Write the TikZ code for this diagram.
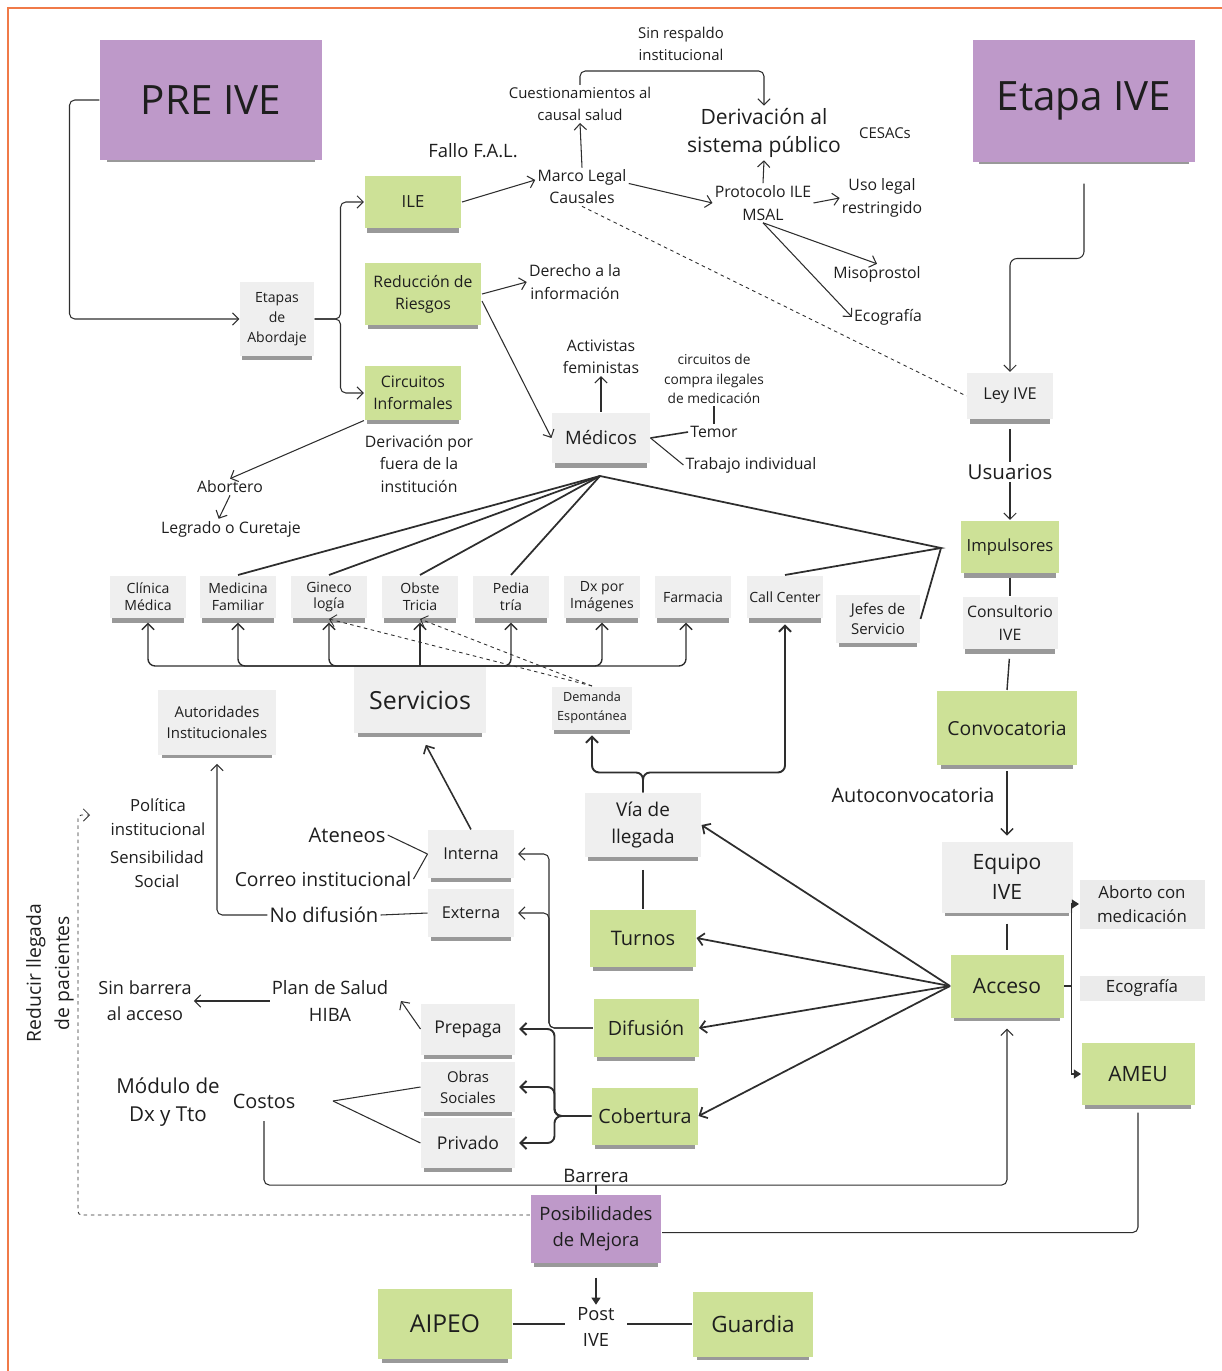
\documentclass[tikz,border=0pt]{standalone}
\usepackage{fontspec}
\setmainfont{Open Sans}
\usetikzlibrary{arrows.meta,shadows}
\definecolor{notepurple}{HTML}{BE99C9}
\definecolor{notegreen}{HTML}{CDE197}
\definecolor{notegray}{HTML}{EFEFEF}
\definecolor{flatgray}{HTML}{EBEBEB}
\definecolor{framecol}{HTML}{F07A48}
\definecolor{linecol}{HTML}{2E2E2E}
\definecolor{inkcol}{HTML}{1E1E1E}
\newcommand\fsz[2]{\fontsize{#1}{#2}\selectfont}
\tikzset{
	note/.style={rectangle, inner sep=1pt, align=center, text=inkcol,
		general shadow={fill=black, opacity=.4, shadow scale=.94, shadow yshift=-3.5pt}},
	purplenote/.style={note, fill=notepurple},
	greennote/.style={note, fill=notegreen},
	graynote/.style={note, fill=notegray},
	flatnote/.style={rectangle, inner sep=1pt, align=center, text=inkcol, fill=flatgray},
	lbl/.style={align=center, inner sep=1pt, text=inkcol},
	dotline/.style={dash pattern=on 2pt off 2pt, line width=0.5pt},
	tri/.style={-{Triangle[length=4pt,width=5pt]}}
}
\begin{document}
\begin{tikzpicture}[x=0.02cm, y=-0.02cm, color=linecol, line width=0.6pt,
	>={Straight Barb[length=3.5pt,width=7pt]}]
	\useasboundingbox (0,0) rectangle (1222,1371);
	\draw[framecol, line width=1.2pt] (1222,8) -- (8,8) -- (8,1371);

	% PRE IVE
	\node[purplenote, minimum width=4.44cm, minimum height=2.4cm, font=\fsz{23}{28}] (preive) at (211,100) {PRE IVE};
	\node[graynote, minimum width=1.48cm, minimum height=1.48cm, font=\fsz{8}{11.3}] (etapas) at (277,319) {Etapas\\de\\Abordaje};
	\node[greennote, minimum width=1.94cm, minimum height=1.06cm, font=\fsz{9.5}{12}] (ile) at (413,202) {ILE};
	\node[greennote, minimum width=2.34cm, minimum height=1.26cm, font=\fsz{9}{12.5}] (reduccion) at (423,294) {Reducción de\\Riesgos};
	\node[greennote, minimum width=1.94cm, minimum height=1.08cm, font=\fsz{9}{12.5}] (circinf) at (413,393) {Circuitos\\Informales};
	\node[lbl, font=\fsz{10.5}{13}] (fallo) at (473,151) {Fallo F.A.L.};
	\node[lbl, font=\fsz{9}{12.5}] (marco) at (582,187) {Marco Legal\\Causales};
	\node[lbl, font=\fsz{8.5}{12.5}] (cuest) at (580,104) {Cuestionamientos al\\causal salud};
	\node[lbl, font=\fsz{8.5}{12.5}] (sinresp) at (681,44) {Sin respaldo\\institucional};
	\node[lbl, font=\fsz{12}{16.4}] (derivpub) at (764,133) {Derivación al\\sistema público};
	\node[lbl, font=\fsz{8.5}{12}] (cesacs) at (885,133) {CESACs};
	\node[lbl, font=\fsz{9}{13}] (protocolo) at (763,203) {Protocolo ILE\\MSAL};
	\node[lbl, font=\fsz{9}{13}] (usolegal) at (882,198) {Uso legal\\restringido};
	\node[lbl, font=\fsz{9}{12}] (miso) at (877,274) {Misoprostol};
	\node[lbl, font=\fsz{9}{12}] (ecoleft) at (888,317) {Ecografía};
	\node[lbl, font=\fsz{9}{13}] (derecho) at (575,282) {Derecho a la\\información};
	\node[lbl, font=\fsz{9}{12.5}] (activ) at (601,357) {Activistas\\feministas};
	\node[lbl, font=\fsz{7.8}{11.3}] (compra) at (714,379) {circuitos de\\compra ilegales\\de medicación};
	\node[graynote, minimum width=1.96cm, minimum height=1.02cm, font=\fsz{10.5}{13}] (medicos) at (601,438) {Médicos};
	\node[lbl, font=\fsz{9}{12}] (temor) at (714,432) {Temor};
	\node[lbl, font=\fsz{9}{12}] (trabajo) at (751,465) {Trabajo individual};
	\node[lbl, font=\fsz{9}{13}] (derivfuera) at (419,464) {Derivación por\\fuera de la\\institución};
	\node[lbl, font=\fsz{9}{12}] (abortero) at (230,487) {Abortero};
	\node[lbl, font=\fsz{9}{12}] (legrado) at (231,529) {Legrado o Curetaje};

	% Etapa IVE
	\node[purplenote, minimum width=4.46cm, minimum height=2.44cm, font=\fsz{23}{28}] (etapaive) at (1084,101) {Etapa IVE};
	\node[graynote, minimum width=1.72cm, minimum height=0.94cm, font=\fsz{9.3}{12}] (ley) at (1010,396) {Ley IVE};
	\node[lbl, font=\fsz{11.7}{14}] (usuarios) at (1010,472) {Usuarios};
	\node[greennote, minimum width=1.96cm, minimum height=1.06cm, font=\fsz{9.5}{12}] (impuls) at (1010,547) {Impulsores};
	\node[graynote, minimum width=1.9cm, minimum height=1.06cm, font=\fsz{9}{13}] (consult) at (1010,623) {Consultorio\\IVE};
	\node[greennote, minimum width=2.8cm, minimum height=1.5cm, font=\fsz{11}{14}] (convoc) at (1007,728) {Convocatoria};
	\node[lbl, font=\fsz{11.3}{14}] (autoconv) at (913,795) {Autoconvocatoria};
	\node[graynote, minimum width=2.62cm, minimum height=1.42cm, font=\fsz{12}{17}] (equipo) at (1007,877) {Equipo\\IVE};
	\node[flatnote, minimum width=2.5cm, minimum height=0.98cm, font=\fsz{9.6}{14}] (aborto) at (1142,904) {Aborto con\\medicación};
	\node[flatnote, minimum width=2.5cm, minimum height=0.5cm, font=\fsz{9.6}{12}] (ecoright) at (1142,988) {Ecografía};
	\node[greennote, minimum width=2.26cm, minimum height=1.26cm, font=\fsz{12}{14}] (acceso) at (1007,986) {Acceso};
	\node[greennote, minimum width=2.26cm, minimum height=1.24cm, font=\fsz{12}{14}] (ameu) at (1138,1074) {AMEU};

	% servicios
	\foreach \nm/\xx/\txt in {clinica/148/{Clínica\\Médica}, medfam/238/{Medicina\\Familiar},
		gineco/329/{Gineco\\logía}, obste/420/{Obste\\Tricia}, pedia/511/{Pedia\\tría},
		dximg/602/{Dx por\\Imágenes}, farmacia/693/Farmacia, callc/785/{Call Center}}
		\node[graynote, minimum width=1.52cm, minimum height=0.86cm, font=\fsz{8}{9.5}] (\nm) at (\xx,597) {\txt};
	\node[graynote, minimum width=1.68cm, minimum height=0.96cm, font=\fsz{8.5}{11.3}] (jefes) at (878,619) {Jefes de\\Servicio};
	\node[graynote, minimum width=2.64cm, minimum height=1.34cm, font=\fsz{14.2}{17}] (servicios) at (420,700) {Servicios};
	\node[graynote, minimum width=2.36cm, minimum height=1.3cm, font=\fsz{8.5}{12}] (autor) at (217,722) {Autoridades\\Institucionales};
	\node[graynote, minimum width=1.6cm, minimum height=0.86cm, font=\fsz{7.2}{10.8}] (demanda) at (592,708) {Demanda\\Espontánea};
	\node[graynote, minimum width=2.32cm, minimum height=1.28cm, font=\fsz{10.8}{15.3}] (via) at (643,825) {Vía de\\llegada};
	\node[greennote, minimum width=2.12cm, minimum height=1.14cm, font=\fsz{11.4}{14}] (turnos) at (643,938) {Turnos};
	\node[greennote, minimum width=2.1cm, minimum height=1.16cm, font=\fsz{11.2}{14}] (difusion) at (646,1028) {Difusión};
	\node[greennote, minimum width=2.12cm, minimum height=1.14cm, font=\fsz{11.2}{14}] (cobertura) at (645,1116) {Cobertura};
	\node[graynote, minimum width=1.72cm, minimum height=0.96cm, font=\fsz{9.3}{12}] (interna) at (471,854) {Interna};
	\node[graynote, minimum width=1.72cm, minimum height=0.96cm, font=\fsz{9.3}{12}] (externa) at (471,913) {Externa};
	\node[lbl, font=\fsz{11.5}{14}] (ateneos) at (347,835) {Ateneos};
	\node[lbl, font=\fsz{11}{14}] (correo) at (323,879) {Correo institucional};
	\node[lbl, font=\fsz{11.5}{14}] (nodif) at (324,915) {No difusión};
	\node[lbl, font=\fsz{9.5}{13.6}] (politica) at (158,817) {Política\\institucional};
	\node[lbl, font=\fsz{9.5}{13.6}] (sensib) at (157,869) {Sensibilidad\\Social};
	\node[lbl, font=\fsz{10.3}{14.7}] (sinbarr) at (145,1001) {Sin barrera\\al acceso};
	\node[lbl, font=\fsz{10.5}{15.3}] (plan) at (330,1001) {Plan de Salud\\HIBA};
	\node[graynote, minimum width=1.88cm, minimum height=1.02cm, font=\fsz{10}{12}] (prepaga) at (468,1029) {Prepaga};
	\node[graynote, minimum width=1.88cm, minimum height=1.0cm, font=\fsz{8.5}{12}] (obras) at (468,1087) {Obras\\Sociales};
	\node[graynote, minimum width=1.88cm, minimum height=1.0cm, font=\fsz{10}{12}] (privado) at (468,1143) {Privado};
	\node[lbl, font=\fsz{11.7}{16.4}] (modulo) at (168,1102) {Módulo de\\Dx y Tto};
	\node[lbl, font=\fsz{11.3}{14}] (costos) at (264,1101) {Costos};
	\node[lbl, font=\fsz{10.6}{14}] (barrera) at (596,1176) {Barrera};
	\node[purplenote, minimum width=2.62cm, minimum height=1.36cm, font=\fsz{10.5}{14.7}] (posib) at (596,1229) {Posibilidades\\de Mejora};
	\node[lbl, font=\fsz{10.4}{15.3}] (post) at (596,1327) {Post\\IVE};
	\node[greennote, minimum width=2.68cm, minimum height=1.4cm, font=\fsz{14}{16}] (aipeo) at (445,1324) {AIPEO};
	\node[greennote, minimum width=2.4cm, minimum height=1.3cm, font=\fsz{12.8}{15}] (guardia) at (753,1324) {Guardia};
	\node[lbl, rotate=90, font=\fsz{11}{16}] (reducir) at (50,973) {Reducir llegada\\de pacientes};

	\coordinate (medhub) at (600,476);
	\coordinate (jefhub) at (941,548);
	\coordinate (costfork) at (333,1101);
	\coordinate (redcorner) at (78,815);
	\coordinate (redtip) at (90,815);

	% PRE IVE side
	\draw[->, rounded corners=3pt] (preive.west) -- ++(-30,0) |- (etapas.west);
	\draw[->, rounded corners=3pt] (etapas.east) -- ++(26,0) |- (ile.west);
	\draw[->, rounded corners=3pt] (etapas.east) -- ++(26,0) |- (circinf.west);
	\draw[->] (ile.east) -- ([yshift=4pt]marco.west);
	\draw[->] (marco.north) -- (cuest.south);
	\draw[->, rounded corners=3pt] (cuest.north) -- ++(0,-14) -| (derivpub.north);
	\draw[->] ([yshift=2pt]marco.east) -- (protocolo.west);
	\draw[->] (protocolo.north) -- (derivpub.south);
	\draw[->] (protocolo.east) -- (usolegal.west);
	\draw[->] (protocolo.south) -- (miso.north);
	\draw[->] (protocolo.south) -- (ecoleft.west);
	\draw[dotline] (marco.south) -- (ley.west);
	\draw[->] (reduccion.east) -- (derecho.west);
	\draw[->] ([yshift=-4pt]reduccion.east) -- (medicos.west);
	\draw[->] (medicos.north) -- (activ.south);
	\draw[line width=0.9pt] (medicos.east) -- (temor.west);
	\draw (medicos.east) -- (trabajo.west);
	\draw (compra.south) -- (temor.north);
	\draw[->] (circinf.south west) -- (abortero.north);
	\draw[->] (abortero.south) -- ([xshift=-7pt]legrado.north);

	% medicos and servicios
	\foreach \s in {medfam, gineco, obste, pedia}
		\draw[line width=1pt] (medhub) -- (\s.north);
	\draw[line width=1pt] (medhub) -- (jefhub) -- (callc.north);
	\draw[line width=1pt] (jefhub) -- (jefes.east);
	\foreach \s in {clinica, medfam, gineco, obste, pedia, dximg}
		\draw[->, line width=0.8pt, rounded corners=4pt, shorten >=2pt] (servicios.north) -| (\s.south);
	\draw[->, line width=0.8pt, rounded corners=4pt, shorten >=2pt] (servicios.north) -| ([xshift=-4pt]farmacia.south);
	\draw[->, dotline] (demanda.north) -- (gineco.south);
	\draw[->, dotline] (demanda.north) -- (obste.south);
	\draw[->, line width=1.1pt, rounded corners=4pt, shorten >=3pt] (via.north) -- ++(0,-20) -| (demanda.south);
	\draw[->, line width=1.1pt, rounded corners=4pt, shorten >=3pt] (via.north) -- ++(0,-20) -| (callc.south);
	\draw[line width=0.9pt, shorten <=7pt] (via.south) -- (turnos.north);

	% acceso
	\foreach \s in {via, turnos, difusion, cobertura}
		\draw[->, line width=1pt] (acceso.west) -- (\s.east);
	\draw[->, rounded corners=3pt, shorten >=2pt] (difusion.west) -- ++(-44,0) |- (interna.east);
	\draw[->, rounded corners=3pt, shorten >=2pt] (difusion.west) -- ++(-44,0) |- (externa.east);
	\foreach \s in {prepaga, obras, privado}
		\draw[->, line width=1.1pt, rounded corners=4pt, shorten >=2pt] (cobertura.west) -- ++(-37,0) |- (\s.east);
	\draw[->, line width=0.9pt, shorten >=7pt] (interna.north) -- (servicios.south);
	\draw (interna.west) -- (ateneos.east);
	\draw (interna.west) -- (correo.east);
	\draw (externa.west) -- (nodif.east);
	\draw[->, rounded corners=3pt, shorten >=5pt] (nodif.west) -| (autor.south);
	\draw[->] (prepaga.west) -- ([xshift=6pt]plan.east);
	\draw[->] (plan.west) -- (sinbarr.east);
	\draw (costfork) -- (obras.west);
	\draw (costfork) -- (privado.west);
	\draw[->, rounded corners=3pt, shorten <=6pt, shorten >=6pt] (costos.south) |- (barrera.south) -| (acceso.south);
	\draw (barrera.south) -- (posib.north);
	\draw[->, dotline, rounded corners=2pt] ([yshift=8pt]posib.west) -| (redcorner) -- (redtip);
	\draw[rounded corners=3pt, shorten <=4pt] (ameu.south) |- ([yshift=-2pt]posib.east);
	\draw[tri, line width=0.9pt, shorten <=8pt] (posib.south) -- (post.north);
	\draw[shorten >=6pt] (aipeo.east) -- (post.west |- aipeo.east);
	\draw[shorten <=6pt] (post.east |- guardia.west) -- (guardia.west);

	% Etapa IVE side
	\draw[->, rounded corners=4pt, shorten <=12pt] (etapaive.south) -- ++(0,96) -| (ley.north);
	\draw[shorten <=5pt] (ley.south) -- (usuarios.north);
	\draw[->] (usuarios.south) -- (impuls.north);
	\draw[shorten <=2pt] (impuls.south) -- (consult.north);
	\draw[line width=0.8pt, shorten <=5pt] (consult.south) -- (convoc.north);
	\draw[->, line width=0.8pt, shorten <=3pt, shorten >=3pt] (convoc.south) -- (equipo.north);
	\draw[shorten <=6pt, shorten >=2pt] (equipo.south) -- (acceso.north);
	\draw[tri] (acceso.east) -- ++(7,0) |- (aborto.west);
	\draw[tri] (acceso.east) -- ++(7,0) |- (ameu.west);
\end{tikzpicture}
\end{document}
